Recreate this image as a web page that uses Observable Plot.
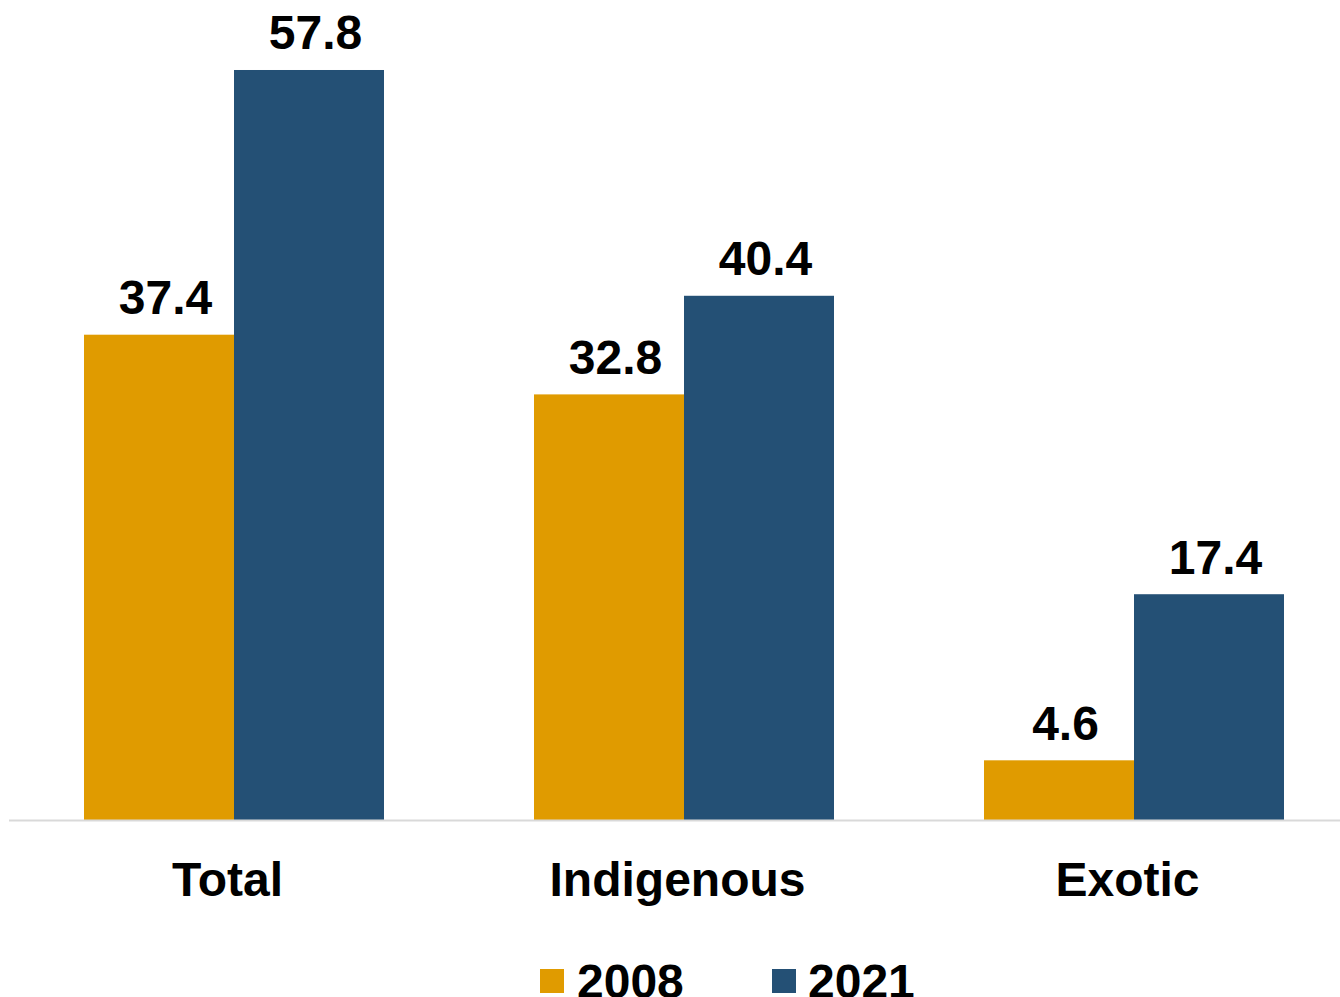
<!DOCTYPE html>
<html>
<head>
<meta charset="utf-8">
<script src="https://cdn.jsdelivr.net/npm/d3@7"></script>
<script src="https://cdn.jsdelivr.net/npm/@observablehq/plot@0.6"></script>
<style>
  html, body { margin: 0; padding: 0; background: #fff; overflow: hidden; }
  body { width: 1340px; height: 997px; font-family: "Liberation Sans", Arial, sans-serif; }
  #chart svg { display: block; }
  #legend { position: relative; height: 47px; width: 1340px; }
  .sw { position: absolute; top: 19px; width: 24px; height: 24px; }
  .lt { position: absolute; top: 8px; font-size: 48px; line-height: 48px; font-weight: bold; color: #000; white-space: nowrap; }
</style>
</head>
<body>
<div id="chart"></div>
<div id="legend"></div>
<script>
const categories = ["Total", "Indigenous", "Exotic"];
const years = ["2008", "2021"];
const values2008 = [37.4, 32.8, 4.6];
const values2021 = [57.8, 40.4, 17.4];
const colors = ["#E09B00", "#245075"];

const data = [];
categories.forEach((c, i) => {
  data.push({category: c, year: years[0], value: values2008[i]});
  data.push({category: c, year: years[1], value: values2021[i]});
});
const d08 = data.filter(d => d.year === years[0]);
const d21 = data.filter(d => d.year === years[1]);

const font = "Liberation Sans, Arial, sans-serif";

const plot = Plot.plot({
  width: 1340,
  height: 950,
  marginLeft: 39,
  marginRight: 11,
  marginTop: 41.45,
  marginBottom: 130,
  style: {fontFamily: font, background: "#fff", overflow: "visible"},
  x: {domain: categories, paddingInner: 1/3, paddingOuter: 0.1, label: null},
  y: {domain: [0, 60], axis: null},
  color: {domain: years, range: colors},
  marks: [
    Plot.barY(d08, {x: "category", y: "value", fill: "year", insetRight: 150, insetLeft: 0}),
    Plot.barY(d21, {x: "category", y: "value", fill: "year", insetLeft: 150, insetRight: 0}),
    Plot.ruleY([0], {stroke: "#d9d9d9", strokeWidth: 2, insetLeft: -30, insetRight: -11}),
    Plot.text(d08, {x: "category", y: "value", text: d => d.value.toFixed(1), dx: -75 + 6, dy: -21, lineAnchor: "bottom", fontSize: 48, fontWeight: "bold", fill: "#000"}),
    Plot.text(d21, {x: "category", y: "value", text: d => d.value.toFixed(1), dx: 75 + 6, dy: -21, lineAnchor: "bottom", fontSize: 48, fontWeight: "bold", fill: "#000"}),
    Plot.axisX({tickSize: 0, tickPadding: 41, fontSize: 48, fontWeight: "bold", dx: -7, label: null, fill: "#000"})
  ]
});
document.getElementById("chart").appendChild(plot);

const legend = document.getElementById("legend");
const swX = [540, 772];
const txX = [577, 808];
years.forEach((y, i) => {
  const sw = document.createElement("div");
  sw.className = "sw";
  sw.style.left = swX[i] + "px";
  sw.style.background = colors[i];
  legend.appendChild(sw);
  const t = document.createElement("div");
  t.className = "lt";
  t.style.left = txX[i] + "px";
  t.textContent = y;
  legend.appendChild(t);
});
</script>
</body>
</html>
